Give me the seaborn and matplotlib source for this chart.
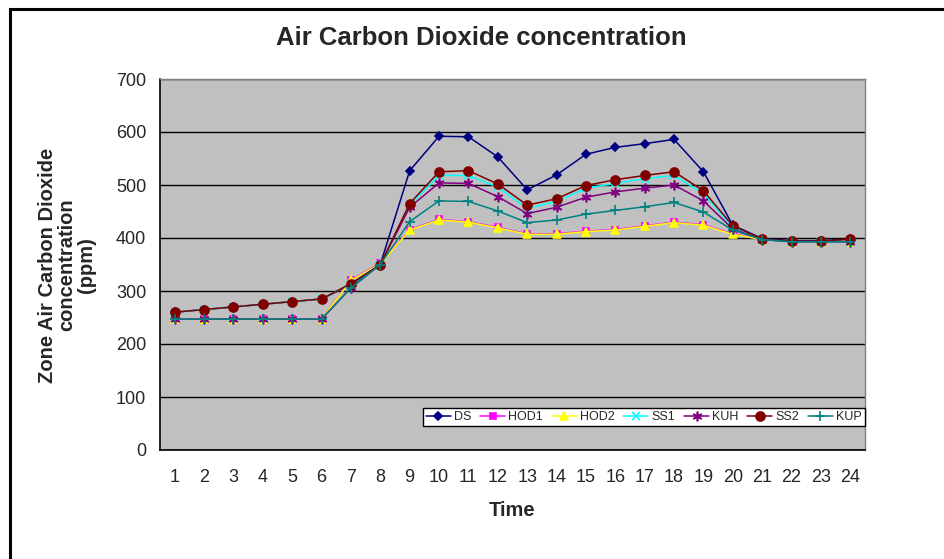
# ============================================
# AIR CARBON DIOXIDE CONCENTRATION CHART
# ============================================

import numpy as np
import pandas as pd
import matplotlib
matplotlib.use("Agg")
import matplotlib.pyplot as plt
import matplotlib.patches as patches
import seaborn as sns

# ============================================
# DATA
# ============================================

hours = list(range(1, 25))

ds = [260, 265, 270, 275, 280, 285, 312, 350, 527, 592, 591, 553,
      491, 519, 558, 571, 578, 586, 525, 424, 399, 395, 395, 398]
hod1 = [247, 247, 247, 247, 247, 247, 321, 352, 416, 435, 431, 420,
        408, 408, 413, 416, 423, 430, 425, 408, 397, 393, 393, 393]
hod2 = [247, 247, 247, 247, 247, 247, 320, 351, 415, 434, 430, 419,
        407, 407, 412, 415, 422, 429, 424, 407, 397, 393, 393, 393]
ss1 = [260, 265, 270, 275, 280, 285, 314, 350, 462, 518, 518, 496,
       456, 469, 494, 503, 512, 518, 484, 420, 397, 393, 393, 393]
kuh = [247, 247, 247, 247, 247, 247, 306, 350, 458, 504, 503, 478,
       446, 458, 477, 487, 494, 500, 470, 417, 397, 393, 393, 393]
ss2 = [260, 265, 270, 275, 280, 285, 314, 350, 465, 525, 527, 502,
       462, 474, 499, 510, 518, 525, 489, 423, 398, 394, 394, 398]
kup = [247, 247, 247, 247, 247, 247, 306, 350, 431, 470, 469, 451,
       429, 434, 445, 452, 459, 467, 449, 415, 397, 393, 393, 393]

series_names = ["DS", "HOD1", "HOD2", "SS1", "KUH", "SS2", "KUP"]
series_values = [ds, hod1, hod2, ss1, kuh, ss2, kup]

colors = ["#000080", "#FF00FF", "#FFFF00", "#00FFFF", "#800080", "#800000", "#008080"]
markers = ["D", "s", "^", "x", (6, 2, 0), "o", "+"]
marker_sizes = [4.5, 5, 6, 6, 7, 6.5, 7]

df = pd.DataFrame({"Time": hours})
for name, vals in zip(series_names, series_values):
    df[name] = vals

# ============================================
# STYLE SETTINGS
# ============================================

sns.set_style("white")
plt.rcParams["font.family"] = ["Liberation Sans", "DejaVu Sans"]

fig = plt.figure(figsize=(9.45, 5.59), dpi=100)
ax = fig.add_axes([160 / 945, 1 - 450 / 559, 705 / 945, 371 / 559])
ax.set_facecolor("#C0C0C0")

# ============================================
# LINES
# ============================================

for name, col, mk, ms in zip(series_names, colors, markers, marker_sizes):
    sns.lineplot(
        x="Time",
        y=name,
        data=df,
        ax=ax,
        color=col,
        marker=mk,
        markersize=ms,
        markeredgecolor=col,
        markeredgewidth=1.2,
        linewidth=1.1,
        label=name,
    )

# ============================================
# AXES
# ============================================

ax.set_xlim(0.5, 24.5)
ax.set_ylim(0, 700)
ax.set_yticks(np.arange(0, 701, 100))
ax.yaxis.grid(True, color="black", linewidth=1)
ax.set_axisbelow(True)

ax.set_xticks(hours)
ax.set_xticklabels([str(h) for h in hours])
ax.set_xticks(np.arange(0.5, 25, 1), minor=True)
ax.tick_params(axis="x", which="major", length=0, pad=14, labelsize=13)
ax.tick_params(axis="x", which="minor", length=5, width=1, direction="out", color="black")
ax.tick_params(axis="y", length=5, width=1, direction="out", color="black", pad=5, labelsize=13)

ax.set_xlabel("")
ax.set_ylabel("")

for side in ["left", "bottom"]:
    ax.spines[side].set_color("black")
    ax.spines[side].set_linewidth(1.2)
for side in ["top", "right"]:
    ax.spines[side].set_color("#808080")
    ax.spines[side].set_linewidth(1)

leg = ax.legend(
    loc="lower right",
    bbox_to_anchor=(1.0, 24 / 371),
    ncol=7,
    fontsize=9,
    frameon=True,
    fancybox=False,
    edgecolor="black",
    facecolor="white",
    framealpha=1,
    handlelength=2.0,
    handletextpad=0.25,
    columnspacing=0.7,
    borderpad=0.25,
    borderaxespad=0,
)
leg.get_frame().set_linewidth(1)

# ============================================
# TEXTS
# ============================================

fig.text(481 / 945, 1 - 38 / 559, "Air Carbon Dioxide concentration",
         ha="center", va="center", fontsize=18.5, fontweight="bold")
fig.text(512 / 945, 1 - 510 / 559, "Time",
         ha="center", va="center", fontsize=14.5, fontweight="bold")
fig.text(67 / 945, 1 - 265 / 559, "Zone Air Carbon Dioxide\nconcentration\n(ppm)",
         ha="center", va="center", rotation=90, multialignment="center",
         fontsize=14.5, fontweight="bold", linespacing=1.05)

# outer chart border (only left and top visible in the crop)
fig.add_artist(patches.Rectangle(
    (10 / 945, -0.5), 2.0, 1.5 - 9 / 559,
    transform=fig.transFigure, fill=False, edgecolor="black", linewidth=2.2,
))

fig.savefig("out.png", dpi=100)
